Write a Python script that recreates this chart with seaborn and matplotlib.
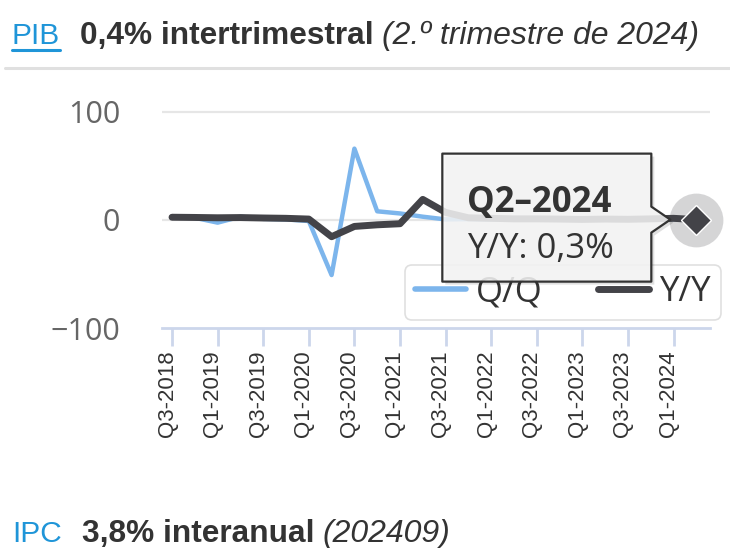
import matplotlib
matplotlib.use("Agg")
import matplotlib.pyplot as plt
import matplotlib.transforms as mtransforms
from matplotlib.lines import Line2D
from matplotlib.patches import Polygon
import seaborn as sns
import pandas as pd

# quarters shown on the x axis
quarters = ["Q3-2018", "Q4-2018", "Q1-2019", "Q2-2019", "Q3-2019", "Q4-2019",
            "Q1-2020", "Q2-2020", "Q3-2020", "Q4-2020", "Q1-2021", "Q2-2021",
            "Q3-2021", "Q4-2021", "Q1-2022", "Q2-2022", "Q3-2022", "Q4-2022",
            "Q1-2023", "Q2-2023", "Q3-2023", "Q4-2023", "Q1-2024", "Q2-2024"]
qq = [2.5, 2.0, -2.5, 3.0, 1.0, 0.5, -1.0, -51.0, 66.0, 8.0, 6.0, 3.0,
      0.5, 0.8, 0.5, 1.0, 0.4, 0.3, 0.6, 0.5, 0.4, 0.6, 0.7, 0.4]
yy = [2.5, 2.3, 2.0, 2.2, 1.8, 1.5, 0.8, -15.5, -6.0, -4.5, -3.5, 19.0,
      7.0, 2.0, 1.5, 1.0, 1.0, 0.8, 0.5, 0.8, 0.6, 1.0, 1.5, 0.3]
tooltip_title = "Q2\u20132024"
tooltip_value = "Y/Y: 0,3%"

W, H = 730, 548
BLUE_LINK = "#1f95d8"
TXT = "#333333"

sns.set_theme(style="white")
plt.rcParams["font.family"] = ["Liberation Sans", "DejaVu Sans"]

fig = plt.figure(figsize=(W / 100, H / 100), dpi=100)
ax = fig.add_axes([162 / W, 1 - 328 / H, 548 / W, 228 / H])

df = pd.DataFrame({"q": range(len(quarters)), "Q/Q": qq, "Y/Y": yy})
sns.lineplot(data=df, x="q", y="Q/Q", ax=ax, color="#7cb5ec", linewidth=3.2, zorder=3)
sns.lineplot(data=df, x="q", y="Y/Y", ax=ax, color="#434348", linewidth=5, zorder=4)

# hovered point
last = len(quarters) - 1
ax.scatter([last], [yy[-1]], s=1500, color="#434348", alpha=0.22, lw=0, zorder=5, clip_on=False)
ax.plot([last], [yy[-1]], marker="D", ms=15, color="#434348", mec="white", mew=1,
        zorder=6, clip_on=False)

ax.set_xlim(-0.44, 23.6)
ax.set_ylim(-100, 111)
ax.set_yticks([-100, 0, 100])
ax.set_yticklabels(["\u2212100", "0", "100"], fontfamily="Open Sans", fontsize=22, color="#666666")
ax.set_xticks(range(0, len(quarters), 2))
ax.set_xticklabels(quarters[::2], rotation=90, fontsize=16, color=TXT)
ax.tick_params(axis="y", length=0, pad=30)
ax.tick_params(axis="x", length=13, width=2, color="#ccd6eb", pad=3, direction="out", bottom=True)
shift = mtransforms.ScaledTranslation(-5 / 100, 0, fig.dpi_scale_trans)
for lbl in ax.get_xticklabels():
    lbl.set_transform(lbl.get_transform() + shift)
ax.set_xlabel("")
ax.set_ylabel("")
for s in ["top", "right", "left"]:
    ax.spines[s].set_visible(False)
ax.spines["bottom"].set_color("#ccd6eb")
ax.spines["bottom"].set_linewidth(2)
for v in [0, 100]:
    ax.axhline(v, color="#e6e6e6", lw=1.6, zorder=1)
ax.set_facecolor("white")

# legend (partly covered by tooltip, runs past the right edge)
handles = [Line2D([], [], color="#7cb5ec", lw=4), Line2D([], [], color="#434348", lw=5)]
leg = ax.legend(handles, ["Q/Q", "Y/Y"], ncol=2, loc="upper left",
                bbox_to_anchor=(405 / W, 1 - 265 / H), bbox_transform=fig.transFigure,
                frameon=True, handlelength=1.45, handletextpad=0.3, columnspacing=1.6,
                borderpad=0.3, borderaxespad=0, prop={"family": "Open Sans", "size": 25})
leg.get_frame().set_edgecolor("#d8d8d8")
leg.get_frame().set_linewidth(1.2)
leg.set_zorder(5)
for t in leg.get_texts():
    t.set_color(TXT)

# tooltip anchored at the hovered point (offsets in inches)
trans = fig.dpi_scale_trans + mtransforms.ScaledTranslation(last, yy[-1], ax.transData)
box = [(-2.54, 0.66), (-0.45, 0.66), (-0.45, 0.13), (-0.26, 0.0), (-0.45, -0.13),
       (-0.45, -0.62), (-2.54, -0.62)]
shadow = [(x + 0.03, y - 0.03) for x, y in box]
ax.add_patch(Polygon(shadow, closed=True, transform=trans, fc=(0, 0, 0, 0.12), ec="none",
                     zorder=7, clip_on=False))
ax.add_patch(Polygon(box, closed=True, transform=trans, fc=(0.97, 0.97, 0.97, 0.86),
                     ec="#333333", lw=1.6, joinstyle="round", zorder=8, clip_on=False))
ax.text(-2.29, 0.17, tooltip_title, transform=trans, fontfamily="Open Sans", fontweight="bold",
        fontsize=25, color=TXT, va="center", ha="left", zorder=9)
ax.text(-2.29, -0.29, tooltip_value, transform=trans, fontfamily="Open Sans",
        fontsize=25, color=TXT, va="center", ha="left", zorder=9)

# header and footer texts
r = fig.canvas.get_renderer()


def put(x, base, s, **kw):
    t = fig.text(x / W, 1 - base / H, s, ha="left", va="baseline", **kw)
    return t.get_window_extent(renderer=r)


bb = put(12, 44, "PIB", color=BLUE_LINK, fontsize=21.5)
fig.add_artist(Line2D([bb.x0 / W, bb.x1 / W], [1 - 50 / H] * 2, transform=fig.transFigure,
                      color=BLUE_LINK, lw=2.2))
bb = put(bb.x1 + 20, 44, "0,4% intertrimestral", color=TXT, fontsize=22.8, fontweight="bold")
put(bb.x1 + 8, 44, "(2.º trimestre de 2024)", color=TXT, fontsize=23, fontstyle="italic")

fig.add_artist(Line2D([5 / W, 1], [1 - 68 / H] * 2, transform=fig.transFigure,
                      color="#e0e0e0", lw=2.2))

bb = put(12, 542, "IPC", color=BLUE_LINK, fontsize=21.5)
bb = put(bb.x1 + 20, 542, "3,8% interanual", color=TXT, fontsize=22.8, fontweight="bold")
put(bb.x1 + 8, 542, "(202409)", color=TXT, fontsize=23, fontstyle="italic")

fig.savefig("out.png", dpi=100)
